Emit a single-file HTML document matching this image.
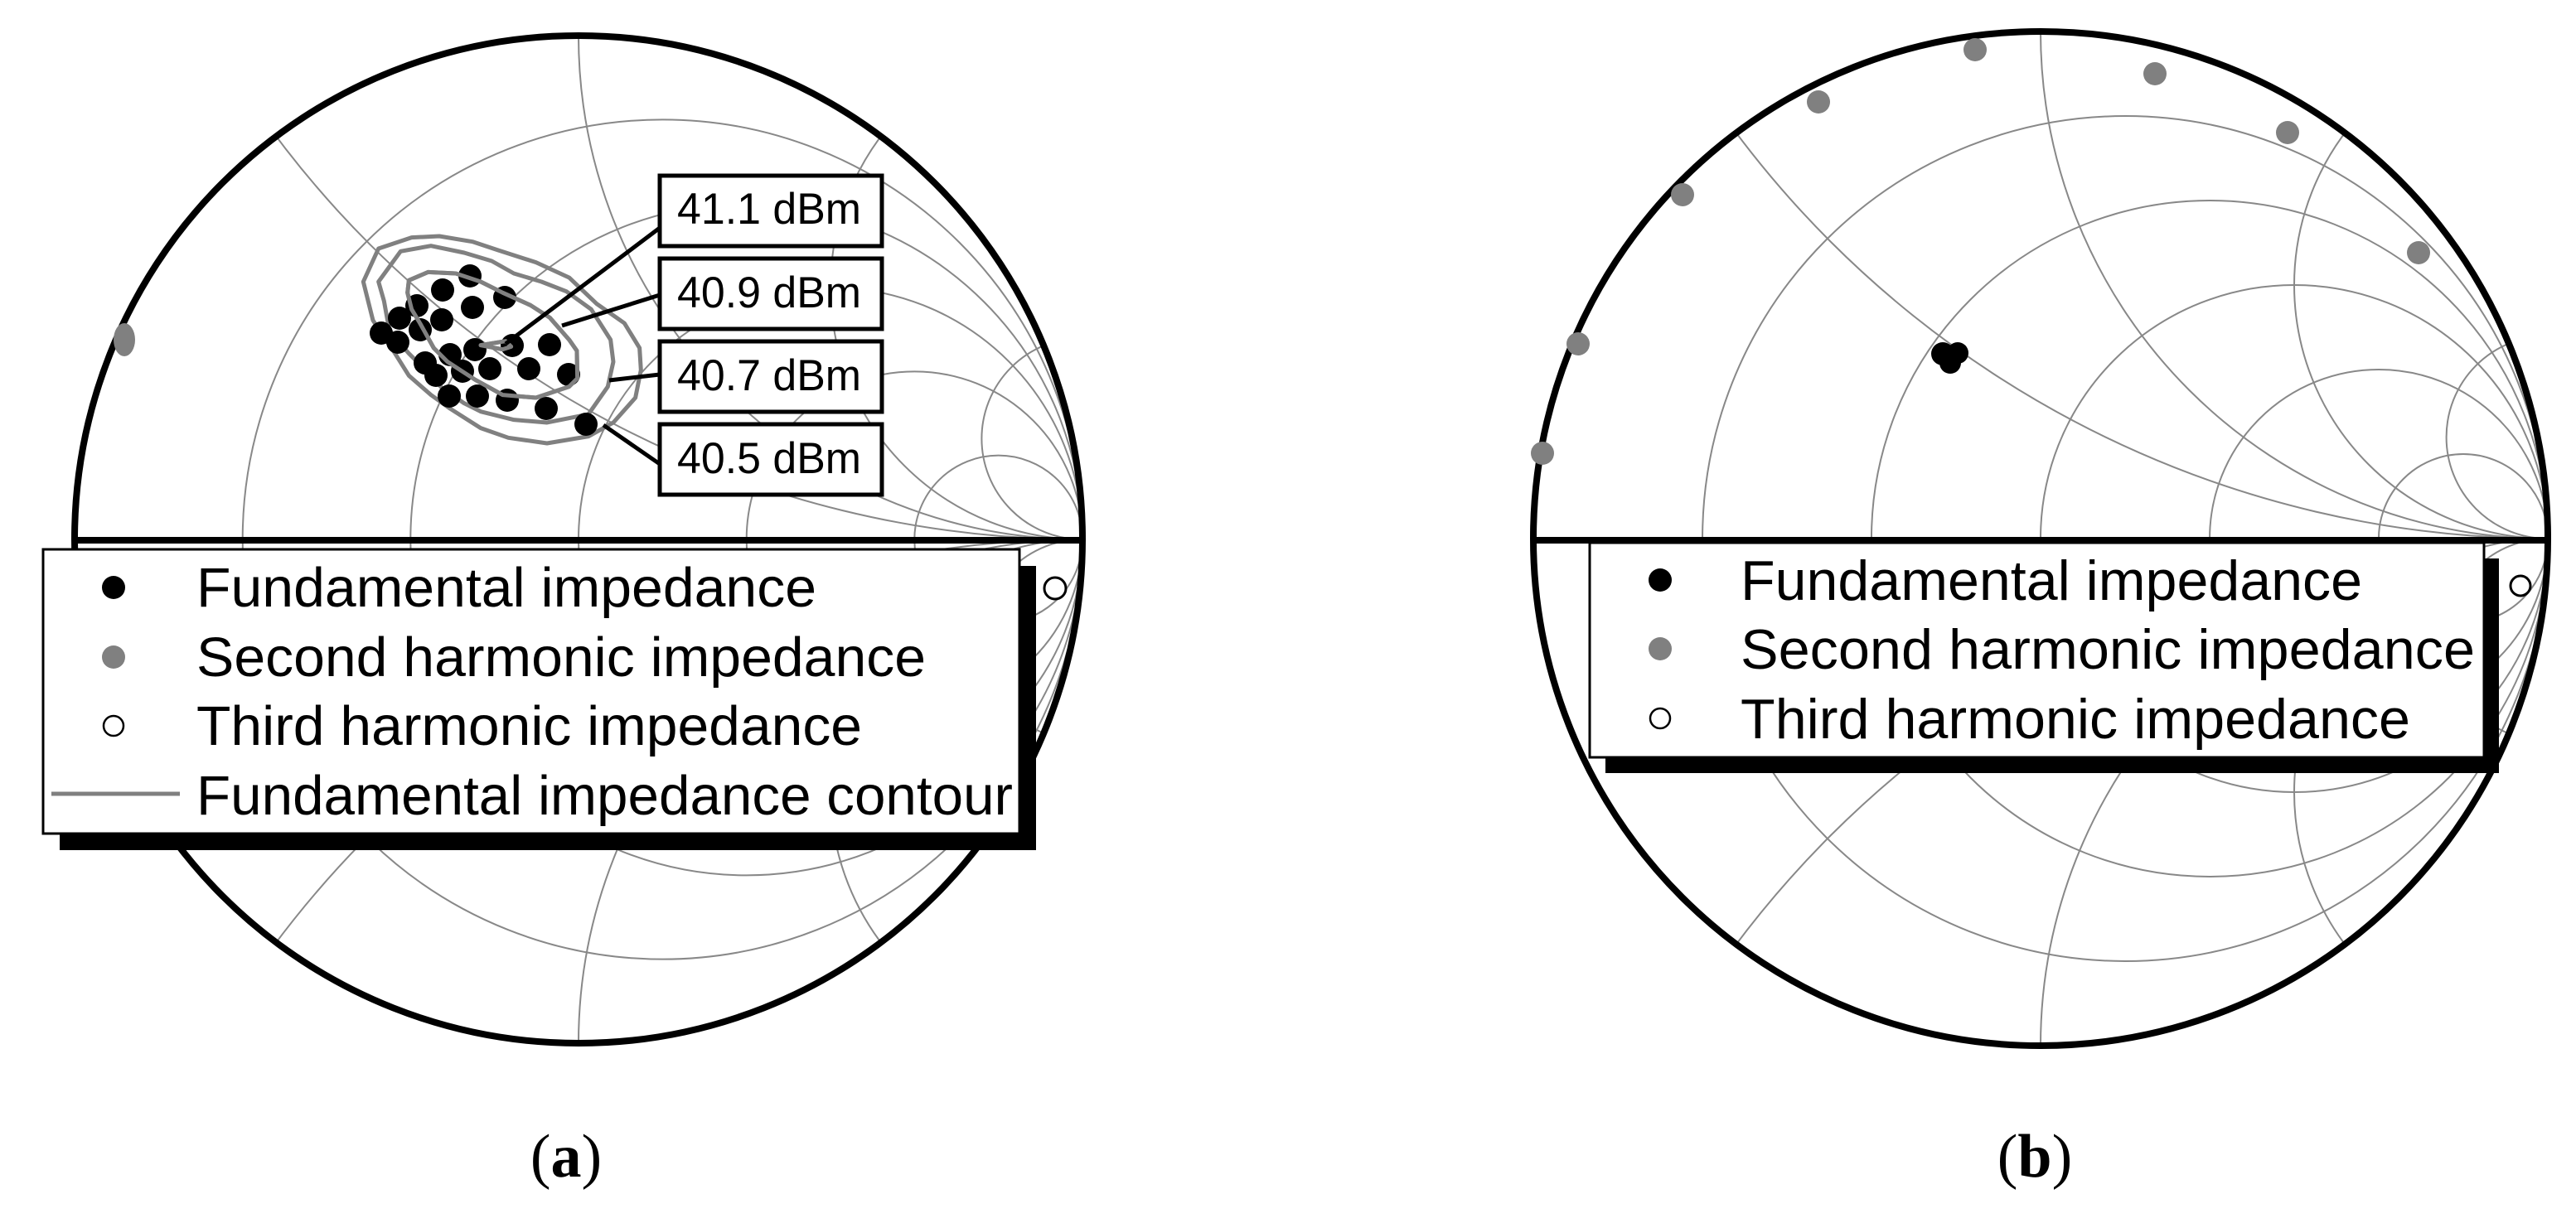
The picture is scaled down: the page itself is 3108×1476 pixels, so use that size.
<!DOCTYPE html>
<html><head><meta charset="utf-8"><style>
html,body{margin:0;padding:0;background:#fff;width:3108px;height:1476px;overflow:hidden;}
svg{display:block;}
text{font-family:"Liberation Sans",sans-serif;}
</style></head><body>
<svg width="3108" height="1476" viewBox="0 0 3108 1476" xmlns="http://www.w3.org/2000/svg">
<defs>
<clipPath id="uc"><circle cx="0" cy="0" r="1"/></clipPath>
<g id="grid">
 <g clip-path="url(#uc)" fill="none" stroke="#888" stroke-width="2" vector-effect="non-scaling-stroke">
  <circle cx="0.1667" cy="0" r="0.8333" vector-effect="non-scaling-stroke"/>
  <circle cx="0.3333" cy="0" r="0.6667" vector-effect="non-scaling-stroke"/>
  <circle cx="0.5" cy="0" r="0.5" vector-effect="non-scaling-stroke"/>
  <circle cx="0.6667" cy="0" r="0.3333" vector-effect="non-scaling-stroke"/>
  <circle cx="0.8333" cy="0" r="0.1667" vector-effect="non-scaling-stroke"/>
  <circle cx="1" cy="-2" r="2" vector-effect="non-scaling-stroke"/>
  <circle cx="1" cy="2" r="2" vector-effect="non-scaling-stroke"/>
  <circle cx="1" cy="-1" r="1" vector-effect="non-scaling-stroke"/>
  <circle cx="1" cy="1" r="1" vector-effect="non-scaling-stroke"/>
  <circle cx="1" cy="-0.5" r="0.5" vector-effect="non-scaling-stroke"/>
  <circle cx="1" cy="0.5" r="0.5" vector-effect="non-scaling-stroke"/>
  <circle cx="1" cy="-0.2" r="0.2" vector-effect="non-scaling-stroke"/>
  <circle cx="1" cy="0.2" r="0.2" vector-effect="non-scaling-stroke"/>
 </g>
</g>
</defs>

<!-- Chart (a) -->
<g transform="translate(698,651) scale(608)"><use href="#grid"/></g>
<circle cx="698" cy="651" r="608" fill="none" stroke="#000" stroke-width="8"/>
<line x1="90" y1="652" x2="1306" y2="652" stroke="#000" stroke-width="8"/>

<g transform="translate(420,280) scale(0.3333)" fill="none" stroke="#808080" stroke-width="15" stroke-linejoin="round">
 <polygon points="110,60 230,20 330,15 450,35 540,65 680,110 800,165 900,260 1000,330 1055,420 1060,500 1040,600 960,690 870,740 720,765 580,745 480,710 370,640 300,590 220,520 170,440 90,320 55,180"/>
 <polygon points="190,70 300,50 420,75 520,105 600,150 700,180 790,215 880,280 950,390 960,470 940,560 870,660 720,690 600,680 480,650 420,620 340,565 280,500 220,440 150,360 130,250 110,180"/>
 <polygon points="220,175 290,145 390,150 480,180 560,220 660,265 730,310 800,390 828,430 830,530 800,560 680,600 560,590 460,535 360,470 310,420 260,330 230,280 215,220"/>
 <polygon points="480,410 570,395 590,415 560,425"/>
</g>
<g fill="#000">
<circle cx="567" cy="333" r="14"/><circle cx="534" cy="350" r="14"/><circle cx="609" cy="359" r="14"/>
<circle cx="570" cy="371" r="14"/><circle cx="503" cy="369" r="14"/><circle cx="482" cy="384" r="14"/>
<circle cx="533" cy="386" r="14"/><circle cx="507" cy="398" r="14"/><circle cx="460" cy="402" r="14"/>
<circle cx="480" cy="413" r="14"/><circle cx="573" cy="422" r="14"/><circle cx="618" cy="417" r="14"/>
<circle cx="663" cy="416" r="14"/><circle cx="543" cy="428" r="14"/><circle cx="513" cy="438" r="14"/>
<circle cx="558" cy="448" r="14"/><circle cx="591" cy="445" r="14"/><circle cx="638" cy="445" r="14"/>
<circle cx="686" cy="452" r="14"/><circle cx="526" cy="453" r="14"/><circle cx="542" cy="478" r="14"/>
<circle cx="576" cy="478" r="14"/><circle cx="612" cy="483" r="14"/><circle cx="659" cy="493" r="14"/>
<circle cx="707" cy="512" r="14"/>
</g>
<g transform="translate(420,280) scale(0.3333)" fill="none" stroke="#808080" stroke-width="15" stroke-linejoin="round">
 <polygon points="220,175 290,145 390,150 480,180 560,220 660,265 730,310 800,390 828,430 830,530 800,560 680,600 560,590 460,535 360,470 310,420 260,330 230,280 215,220"/>
 <polygon points="480,410 570,395 590,415 560,425"/>
</g>
<ellipse cx="150" cy="410" rx="13" ry="20" fill="#808080"/>
<circle cx="1273" cy="710" r="13" fill="#fff" stroke="#000" stroke-width="3"/>

<g stroke="#000" stroke-width="5">
<line x1="610" y1="415" x2="796" y2="275"/>
<line x1="678" y1="393" x2="796" y2="356"/>
<line x1="735" y1="459" x2="796" y2="452"/>
<line x1="728" y1="513" x2="796" y2="560"/>
</g>
<g fill="#fff" stroke="#000" stroke-width="5">
<rect x="796" y="212" width="268" height="85"/>
<rect x="796" y="312" width="268" height="85"/>
<rect x="796" y="412" width="268" height="85"/>
<rect x="796" y="512" width="268" height="85"/>
</g>
<g font-size="53" fill="#000">
<text x="817" y="270" textLength="222" lengthAdjust="spacingAndGlyphs">41.1 dBm</text>
<text x="817" y="371" textLength="222" lengthAdjust="spacingAndGlyphs">40.9 dBm</text>
<text x="817" y="471" textLength="222" lengthAdjust="spacingAndGlyphs">40.7 dBm</text>
<text x="817" y="571" textLength="222" lengthAdjust="spacingAndGlyphs">40.5 dBm</text>
</g>

<rect x="72" y="683" width="1178" height="343" fill="#000"/>
<rect x="52" y="663" width="1178" height="343" fill="#fff" stroke="#000" stroke-width="3"/>
<circle cx="137" cy="709" r="14" fill="#000"/>
<circle cx="137" cy="793" r="14" fill="#808080"/>
<circle cx="137" cy="876" r="12" fill="#fff" stroke="#000" stroke-width="2.5"/>
<line x1="62" y1="958" x2="217" y2="958" stroke="#808080" stroke-width="5"/>
<g font-size="67" fill="#000">
<text x="237" y="732" textLength="748" lengthAdjust="spacingAndGlyphs">Fundamental impedance</text>
<text x="237" y="816" textLength="880" lengthAdjust="spacingAndGlyphs">Second harmonic impedance</text>
<text x="237" y="899" textLength="803" lengthAdjust="spacingAndGlyphs">Third harmonic impedance</text>
<text x="237" y="983" textLength="985" lengthAdjust="spacingAndGlyphs">Fundamental impedance contour</text>
</g>

<!-- Chart (b) -->
<g transform="translate(2462,650) scale(612)"><use href="#grid"/></g>
<circle cx="2462" cy="650" r="612" fill="none" stroke="#000" stroke-width="8"/>
<line x1="1850" y1="652" x2="3074" y2="652" stroke="#000" stroke-width="8"/>
<g fill="#808080">
<circle cx="2383" cy="60" r="14"/><circle cx="2600" cy="89" r="14"/><circle cx="2194" cy="123" r="14"/>
<circle cx="2760" cy="160" r="14"/><circle cx="2030" cy="235" r="14"/><circle cx="2918" cy="305" r="14"/>
<circle cx="1904" cy="415" r="14"/><circle cx="1861" cy="547" r="14"/>
</g>
<g fill="#000"><circle cx="2344" cy="427" r="14"/><circle cx="2362" cy="426" r="13"/><circle cx="2353" cy="438" r="13"/></g>
<circle cx="3041" cy="707" r="12" fill="#fff" stroke="#000" stroke-width="3"/>

<rect x="1937" y="674" width="1078" height="259" fill="#000"/>
<rect x="1918" y="655" width="1079" height="259" fill="#fff" stroke="#000" stroke-width="3"/>
<circle cx="2003" cy="700" r="14" fill="#000"/>
<circle cx="2003" cy="783" r="14" fill="#808080"/>
<circle cx="2003" cy="867" r="12" fill="#fff" stroke="#000" stroke-width="2.5"/>
<g font-size="68" fill="#000">
<text x="2100" y="724" textLength="750" lengthAdjust="spacingAndGlyphs">Fundamental impedance</text>
<text x="2100" y="807" textLength="886" lengthAdjust="spacingAndGlyphs">Second harmonic impedance</text>
<text x="2100" y="891" textLength="808" lengthAdjust="spacingAndGlyphs">Third harmonic impedance</text>
</g>

<g font-size="74" fill="#000" text-anchor="middle">
<text x="683" y="1420" style="font-family:'Liberation Serif',serif">(<tspan font-weight="bold">a</tspan>)</text>
<text x="2455" y="1420" style="font-family:'Liberation Serif',serif">(<tspan font-weight="bold">b</tspan>)</text>
</g>
</svg>
</body></html>
